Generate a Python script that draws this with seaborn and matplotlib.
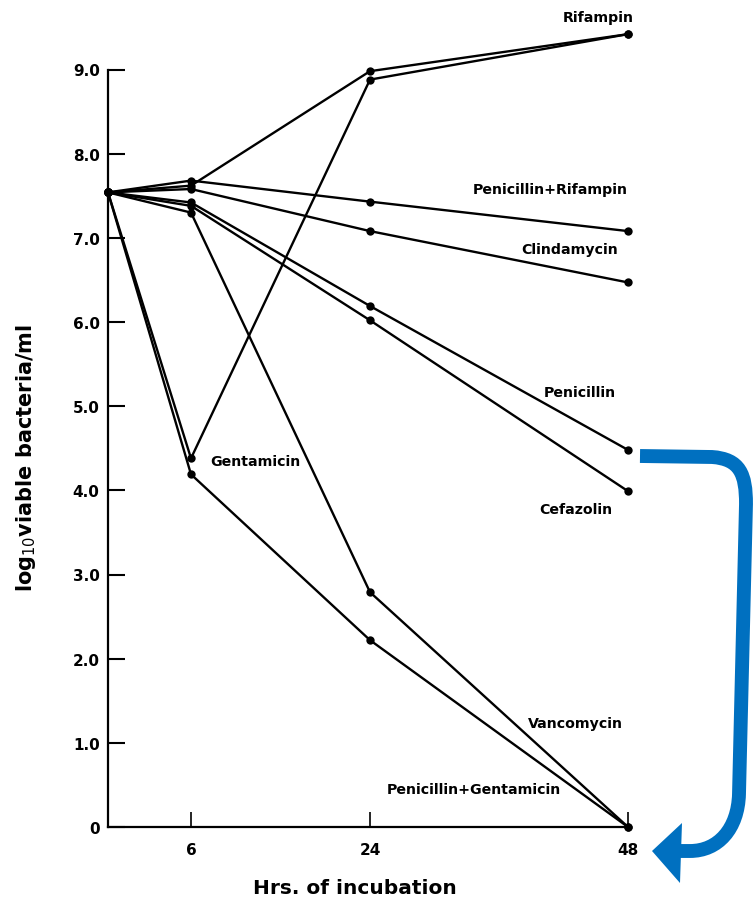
import numpy as np
import pandas as pd
import matplotlib
matplotlib.use("Agg")
import matplotlib.pyplot as plt
import seaborn as sns
from matplotlib.path import Path
from matplotlib.patches import PathPatch, Polygon

# hours of incubation and log10 viable bacteria/ml
hours = [0, 6, 24, 48]
rifampin = [7.54, 7.62, 8.98, 9.42]
gentamicin = [7.54, 4.38, 8.88, 9.42]
penicillin_rifampin = [7.54, 7.68, 7.43, 7.08]
clindamycin = [7.54, 7.58, 7.08, 6.47]
penicillin = [7.54, 7.42, 6.19, 4.48]
cefazolin = [7.54, 7.38, 6.02, 3.99]
vancomycin = [7.54, 7.30, 2.79, 0.0]
penicillin_gentamicin = [7.54, 4.19, 2.22, 0.0]

series = {
    "Rifampin": rifampin,
    "Gentamicin": gentamicin,
    "Penicillin+Rifampin": penicillin_rifampin,
    "Clindamycin": clindamycin,
    "Penicillin": penicillin,
    "Cefazolin": cefazolin,
    "Vancomycin": vancomycin,
    "Penicillin+Gentamicin": penicillin_gentamicin,
}

y_ticks = [0, 1, 2, 3, 4, 5, 6, 7, 8, 9]
y_tick_labels = ["0", "1.0", "2.0", "3.0", "4.0", "5.0", "6.0", "7.0", "8.0", "9.0"]
x_ticks = [6, 24, 48]
x_tick_labels = ["6", "24", "48"]

# label text and its place (axes fraction)
curve_labels = [
    ("Rifampin", 0.875, 1.003),
    ("Penicillin+Rifampin", 0.702, 0.790),
    ("Clindamycin", 0.794, 0.715),
    ("Penicillin", 0.838, 0.538),
    ("Cefazolin", 0.829, 0.394),
    ("Gentamicin", 0.196, 0.453),
    ("Vancomycin", 0.808, 0.129),
    ("Penicillin+Gentamicin", 0.537, 0.047),
]

rows = []
for name, vals in series.items():
    for h, v in zip(hours, vals):
        rows.append({"drug": name, "hours": h, "log_count": v})
df = pd.DataFrame(rows)

sns.set_theme(style="white")
plt.rcParams["font.family"] = ["DejaVu Sans"]
plt.rcParams["text.color"] = "black"
plt.rcParams["axes.labelcolor"] = "black"
plt.rcParams["xtick.color"] = "black"
plt.rcParams["ytick.color"] = "black"

W, H = 753, 904
fig = plt.figure(figsize=(W / 100, H / 100), dpi=100)
ax = fig.add_axes([108 / W, (H - 828) / H, 520 / W, 808 / H])

# the original time axis is not evenly spaced
axis_hours = [0, 6, 24, 48]
axis_pos = [0, 83, 262, 520]
ax.set_xscale("function", functions=(lambda h: np.interp(h, axis_hours, axis_pos),
                                      lambda p: np.interp(p, axis_pos, axis_hours)))

sns.lineplot(data=df, x="hours", y="log_count", hue="drug", units="drug",
             estimator=None, sort=False, palette=["black"] * len(series),
             marker="o", markersize=6, markeredgewidth=0, linewidth=1.7,
             legend=False, ax=ax, clip_on=False)

ax.set_xlim(0, 48)
ax.set_ylim(0, 9.6)
ax.spines["top"].set_visible(False)
ax.spines["right"].set_visible(False)
ax.spines["left"].set_bounds(0, 9)
for s in ("left", "bottom"):
    ax.spines[s].set_linewidth(1.6)
    ax.spines[s].set_color("black")

ax.set_yticks(y_ticks)
ax.set_yticklabels(y_tick_labels, fontsize=11, fontweight="bold")
ax.set_xticks(x_ticks)
ax.set_xticklabels(x_tick_labels, fontsize=11, fontweight="bold")
ax.tick_params(axis="y", direction="in", length=12, width=1.5, pad=6, left=True)
ax.tick_params(axis="x", direction="in", length=11, width=1.2, pad=11, bottom=True)
ax.grid(False)

ax.set_ylabel("log$_{10}$viable bacteria/ml", fontsize=15, fontweight="bold")
ax.yaxis.set_label_coords(-0.135, 0.458)
ax.set_xlabel("Hrs. of incubation", fontsize=14.5, fontweight="bold")
ax.xaxis.set_label_coords(0.475, -0.063)

for text, fx, fy in curve_labels:
    ax.text(fx, fy, text, transform=ax.transAxes, fontsize=10.2,
            fontweight="bold", ha="left", va="center")

# blue arrow annotation, drawn in figure pixels
def px(x, y):
    return (x / W, 1 - y / H)

verts = [px(640, 457), px(712, 458), px(740, 460), px(746, 475), px(746, 505),
         px(739, 795), px(738, 830), px(718, 852), px(690, 852), px(676, 852)]
codes = [Path.MOVETO, Path.LINETO, Path.CURVE4, Path.CURVE4, Path.CURVE4,
         Path.LINETO, Path.CURVE4, Path.CURVE4, Path.CURVE4, Path.LINETO]
fig.patches.append(PathPatch(Path(verts, codes), transform=fig.transFigure,
                             facecolor="none", edgecolor="#0070C0",
                             linewidth=10, capstyle="butt", joinstyle="round"))
fig.patches.append(Polygon([px(652, 852), px(682, 824), px(680, 884)],
                           closed=True, transform=fig.transFigure,
                           facecolor="#0070C0", edgecolor="none"))

fig.savefig("out.png", dpi=100)
plt.close(fig)
